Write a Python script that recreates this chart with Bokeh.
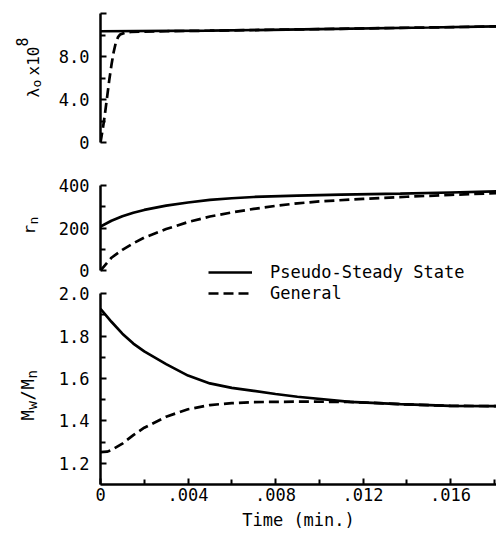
import math
from bokeh.plotting import figure
from bokeh.models import Range1d, FixedTicker, Legend, LegendItem, Label
from bokeh.layouts import column, row
from bokeh.embed import file_html
from bokeh.resources import INLINE

# ---------------- data ----------------
# lambda_0 x 1e8
t_lam_pss = [0, 0.005, 0.010, 0.015, 0.0181]
lam_pss = [10.35, 10.4, 10.55, 10.7, 10.8]
t_lam_gen = [0, 0.0001, 0.0002, 0.0003, 0.0004, 0.0005, 0.0006, 0.0007, 0.0008,
             0.0009, 0.0011, 0.0014, 0.002, 0.003, 0.005, 0.010, 0.015, 0.0181]
lam_gen = [0, 1.2, 2.6, 4.2, 5.8, 7.2, 8.4, 9.3, 9.8,
           10.05, 10.2, 10.28, 10.32, 10.35, 10.4, 10.55, 10.7, 10.8]

# r_n
t_rn_pss = [0, 0.0005, 0.001, 0.0015, 0.002, 0.003, 0.004, 0.005, 0.006, 0.007,
            0.009, 0.011, 0.0137, 0.016, 0.0181]
rn_pss = [207, 234, 255, 272, 285, 305, 320, 332, 340, 346, 352, 357, 362, 367, 372]
t_rn_gen = [0, 0.0005, 0.001, 0.0015, 0.002, 0.003, 0.004, 0.005, 0.006, 0.007,
            0.008, 0.009, 0.010, 0.012, 0.014, 0.016, 0.0181]
rn_gen = [0, 60, 97, 128, 155, 195, 228, 254, 273, 290, 304, 316, 325, 337, 347, 356, 364]

# Mw/Mn
t_pd_pss = [0, 0.0005, 0.001, 0.0015, 0.002, 0.003, 0.004, 0.005, 0.006, 0.007,
            0.008, 0.009, 0.0114, 0.0137, 0.016, 0.0181]
pd_pss = [1.929, 1.868, 1.812, 1.765, 1.728, 1.668, 1.614, 1.577, 1.556, 1.542,
          1.527, 1.514, 1.490, 1.479, 1.471, 1.470]
t_pd_gen = [0, 0.0003, 0.0005, 0.001, 0.0015, 0.002, 0.003, 0.004, 0.005, 0.006,
            0.007, 0.009, 0.0114, 0.0137, 0.016, 0.0181]
pd_gen = [1.253, 1.255, 1.262, 1.293, 1.333, 1.368, 1.42, 1.455, 1.475, 1.484,
          1.489, 1.491, 1.490, 1.479, 1.471, 1.470]

# ticks
x_ticks = [0, 0.004, 0.008, 0.012, 0.016]
x_minor = [0.002, 0.006, 0.010, 0.014, 0.018]
x_labels = ["0", ".004", ".008", ".012", ".016"]
lam_ticks = [0, 4, 8, 12]
lam_minor = [2, 6, 10]
lam_labels = ["0", "4.0", "8.0", ""]
rn_ticks = [0, 200, 400]
rn_minor = [100, 300]
rn_labels = ["0", "200", "400"]
pd_ticks = [1.2, 1.4, 1.6, 1.8, 2.0]
pd_minor = [1.3, 1.5, 1.7, 1.9]
pd_labels = ["1.2", "1.4", "1.6", "1.8", "2.0"]

legend_labels = ["Pseudo-Steady State", "General"]
x_title = "Time (min.)"
# y-axis titles, split into normal / sub / superscript pieces
lam_title = ["λ", "o", "x10", "8"]
rn_title = ["r", "n"]
pd_title = ["M", "w", "/", "M", "n"]

# ---------------- layout / style ----------------
FONT = "DejaVu Sans Mono"
TOTAL_W = 496
TW = 50                      # width of the strip holding the y titles
W = TOTAL_W - TW
LEFT = 100 - TW              # left border of each panel
X_END = 0.0181
LW = 2.7
DASH = "10 5"


def make_fig(height, y0, y1, top, bottom):
    p = figure(width=W, height=height, output_backend="svg", toolbar_location=None,
               x_range=Range1d(0, X_END), y_range=Range1d(y0, y1),
               min_border_left=LEFT, min_border_right=0,
               min_border_top=top, min_border_bottom=bottom)
    p.outline_line_color = None
    p.grid.visible = False
    p.background_fill_color = "white"
    p.border_fill_color = "white"
    return p


def style_axis(ax, ticks, minor, labels, bounds, standoff):
    ax.ticker = FixedTicker(ticks=ticks, minor_ticks=minor)
    ax.major_label_overrides = {t: l for t, l in zip(ticks, labels)}
    ax.bounds = bounds
    ax.axis_line_width = 2.5
    ax.axis_line_color = "black"
    ax.major_tick_in = 6
    ax.major_tick_out = 0
    ax.minor_tick_in = 5
    ax.minor_tick_out = 0
    ax.major_tick_line_width = 2
    ax.minor_tick_line_width = 2
    ax.major_tick_line_color = "black"
    ax.minor_tick_line_color = "black"
    ax.major_label_text_font = FONT
    ax.major_label_text_font_size = "17px"
    ax.major_label_text_color = "black"
    ax.major_label_standoff = standoff


leg_kw = dict(padding=0, margin=0, spacing=0, glyph_width=44, glyph_height=20,
              label_height=20, label_standoff=18, label_text_font=FONT,
              label_text_font_size="17px", label_text_color="black",
              border_line_color=None, background_fill_alpha=0)

# ---- panel 1 : lambda_0 ----
H1 = 152
TOP1 = 13
PPU1 = 10.75
y1_end = 12
y1_start = y1_end - (H1 - TOP1) / PPU1
p1 = make_fig(H1, y1_start, y1_end, TOP1, 0)
p1.xaxis.visible = False
style_axis(p1.yaxis[0], lam_ticks, lam_minor, lam_labels, (0, 12), 11)
p1.line(t_lam_pss, lam_pss, line_width=LW, line_color="black")
p1.line(t_lam_gen, lam_gen, line_width=LW, line_color="black", line_dash=DASH)

# ---- panel 2 : r_n ----
H2 = 131
TOP2 = 33
PPU2 = 85 / 400
y2_end = 400
y2_start = y2_end - (H2 - TOP2) / PPU2
p2 = make_fig(H2, y2_start, y2_end, TOP2, 0)
p2.xaxis.visible = False
style_axis(p2.yaxis[0], rn_ticks, rn_minor, rn_labels, (0, 400), 11)
r2a = p2.line(t_rn_pss, rn_pss, line_width=LW, line_color="black")
p2.line(t_rn_gen, rn_gen, line_width=LW, line_color="black", line_dash=DASH)
leg2 = Legend(items=[LegendItem(label=legend_labels[0], renderers=[r2a])],
              location=(108, 1.0), **leg_kw)
p2.add_layout(leg2)

# ---- panel 3 : Mw/Mn ----
H3 = 533 - H1 - H2
BOT3 = 49
y3_start = 1.1
PPU3 = (484 - 293.3) / (2.0 - 1.1)
y3_end = y3_start + (H3 - BOT3) / PPU3
p3 = make_fig(H3, y3_start, y3_end, 0, BOT3)
style_axis(p3.yaxis[0], pd_ticks, pd_minor, pd_labels, (1.1, 2.0), 11)
style_axis(p3.xaxis[0], x_ticks, x_minor, x_labels, (0, X_END), 3)
p3.xaxis[0].axis_label = x_title
p3.xaxis[0].axis_label_text_font = FONT
p3.xaxis[0].axis_label_text_font_size = "17px"
p3.xaxis[0].axis_label_text_font_style = "normal"
p3.xaxis[0].axis_label_text_color = "black"
p3.xaxis[0].axis_label_standoff = 6
p3.line(t_pd_pss, pd_pss, line_width=LW, line_color="black")
r3b = p3.line(t_pd_gen, pd_gen, line_width=LW, line_color="black", line_dash=DASH)
leg3 = Legend(items=[LegendItem(label=legend_labels[1], renderers=[r3b])],
              location=(108, 484 - 303), **leg_kw)
p3.add_layout(leg3)

# ---- strip with the rotated y-axis titles (pixel coordinates) ----
pt = figure(width=TW, height=533, output_backend="svg", toolbar_location=None,
            x_range=Range1d(0, TW), y_range=Range1d(533, 0),
            min_border_left=0, min_border_right=0, min_border_top=0, min_border_bottom=0)
pt.axis.visible = False
pt.grid.visible = False
pt.outline_line_color = None
pt.border_fill_color = "white"

title_parts = [
    (lam_title[0], 33, 97, "16px"), (lam_title[1], 36, 87, "13px"),
    (lam_title[2], 33, 75, "16px"), (lam_title[3], 21, 46, "15px"),
    (rn_title[0], 29, 234, "16px"), (rn_title[1], 33, 224, "13px"),
    (pd_title[0], 27, 420, "17px"), (pd_title[1], 31, 409, "14px"),
    (pd_title[2], 27, 400, "17px"), (pd_title[3], 27, 389, "17px"),
    (pd_title[4], 31, 378, "14px"),
]
for txt, sx, sy, size in title_parts:
    pt.add_layout(Label(x=sx, y=sy, text=txt, angle=math.pi / 2, text_align="left",
                        text_baseline="alphabetic", text_font=FONT,
                        text_font_size=size, text_color="black"))

layout = row(pt, column(p1, p2, p3, spacing=0), spacing=0)
open("out.html", "w").write(file_html(layout, INLINE))
